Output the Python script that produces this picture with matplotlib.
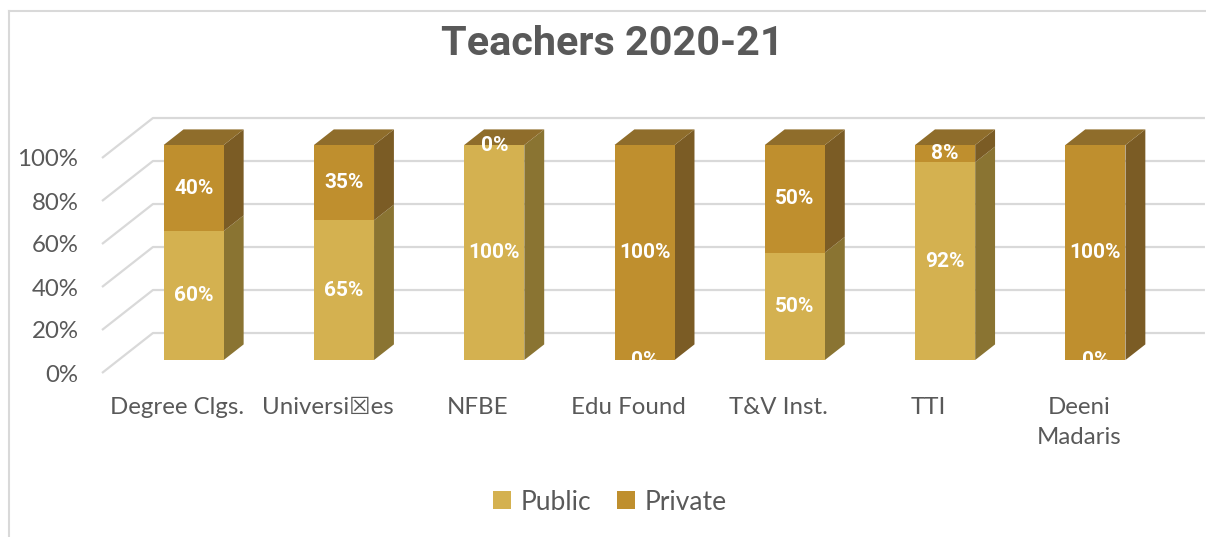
import matplotlib
matplotlib.use("Agg")
import matplotlib.pyplot as plt
from matplotlib.patches import Polygon, Patch
from matplotlib.lines import Line2D
from matplotlib.ticker import FuncFormatter

# ---- data ----
categories = ["Degree Clgs.", "Universi\u2612es", "NFBE", "Edu Found", "T&V Inst.", "TTI", "Deeni\nMadaris"]
public = [60, 65, 100, 0, 50, 92, 0]
private = [40, 35, 0, 100, 50, 8, 100]
series_names = ["Public", "Private"]
yticks = [0, 20, 40, 60, 80, 100]
title = "Teachers 2020-21"

# ---- style ----
front_cols = ["#D4B150", "#BF8F2E"]
side_cols = ["#8A7432", "#7B5C25"]
top_col = "#8F6D2B"
grid_col = "#D9D9D9"
text_col = "#595959"
tick_font = "Lato"

W, H = 1206, 537
fig = plt.figure(figsize=(W / 100, H / 100), dpi=100)
fig.patch.set_facecolor("white")

# axes = front plane of the 3D box
left_px, right_px, bot_px, top_px = 102, 1154, 373, 158
ax = fig.add_axes([left_px / W, (H - bot_px) / H, (right_px - left_px) / W, (bot_px - top_px) / H])
ax.set_xlim(-0.5, len(categories) - 0.5)
ax.set_ylim(0, 100)
for s in ax.spines.values():
    s.set_visible(False)
ax.patch.set_alpha(0)

# depth vector (data units) for full depth
DX, DY = 0.339, 18.6
zf, zb = 0.325, 0.715
bw = 0.4

# gridlines: side wall diagonals + back wall horizontals
x0, x1 = ax.get_xlim()
for v in yticks:
    ax.plot([x0, x0 + DX, x1 + DX], [v, v + DY, v + DY], color=grid_col, lw=1.6,
            clip_on=False, zorder=0, solid_capstyle="butt")

# bars
for i in range(len(categories)):
    vals = [public[i], private[i]]
    xc = i + zf * DX
    xl, xr = xc - bw / 2, xc + bw / 2
    dd = (zb - zf)
    bottom = 0
    for s, v in enumerate(vals):
        y0, y1 = bottom, bottom + v
        ax.bar(xc, v, width=bw, bottom=y0 + zf * DY, color=front_cols[s], zorder=3,
               clip_on=False, linewidth=0)
        if v > 0:
            side = Polygon([(xr, y0 + zf * DY), (xr + dd * DX, y0 + zb * DY),
                            (xr + dd * DX, y1 + zb * DY), (xr, y1 + zf * DY)],
                           closed=True, facecolor=side_cols[s], edgecolor="none", zorder=2, clip_on=False)
            ax.add_patch(side)
        bottom = y1
    top = bottom
    topface = Polygon([(xl, top + zf * DY), (xr, top + zf * DY),
                       (xr + dd * DX, top + zb * DY), (xl + dd * DX, top + zb * DY)],
                      closed=True, facecolor=top_col, edgecolor="none", zorder=2, clip_on=False)
    ax.add_patch(topface)
    # labels
    bottom = 0
    for s, v in enumerate(vals):
        ax.text(xc, bottom + v / 2 + zf * DY, f"{v}%", ha="center", va="center",
                color="white", fontsize=15, fontweight="bold", family="Roboto",
                zorder=5, clip_on=False)
        bottom += v

# ticks
ax.set_yticks(yticks)
ax.yaxis.set_major_formatter(FuncFormatter(lambda v, p: f"{int(v)}%"))
ax.set_xticks(range(len(categories)))
ax.set_xticklabels(categories, linespacing=1.55)
ax.tick_params(axis="both", length=0, colors=text_col, labelsize=17.3)
ax.tick_params(axis="y", pad=17)
ax.tick_params(axis="x", pad=17)
for lab in ax.get_xticklabels() + ax.get_yticklabels():
    lab.set_family([tick_font, "DejaVu Sans"])
    lab.set_color(text_col)
ax.grid(False)

# title
fig.text(612 / W, 1 - 44 / H, title, ha="center", va="center", fontsize=29.8,
         fontweight="bold", family="Roboto", color=text_col)

# legend
handles = [Patch(facecolor=front_cols[k], edgecolor="none", label=series_names[k]) for k in range(2)]
leg = fig.legend(handles=handles, loc="center", bbox_to_anchor=(610 / W, 1 - 502 / H), ncol=2,
                 frameon=False, prop={"family": tick_font, "size": 19}, labelcolor=text_col,
                 handlelength=0.68, handleheight=0.68, handletextpad=0.35, columnspacing=1.0)

# chart border (left and top visible)
fig.add_artist(Line2D([9 / W, 9 / W], [0, 1 - 11 / H], color=grid_col, lw=1.5, transform=fig.transFigure))
fig.add_artist(Line2D([9 / W, 1], [1 - 11 / H, 1 - 11 / H], color=grid_col, lw=1.5, transform=fig.transFigure))

fig.savefig("out.png", dpi=100, facecolor="white")
